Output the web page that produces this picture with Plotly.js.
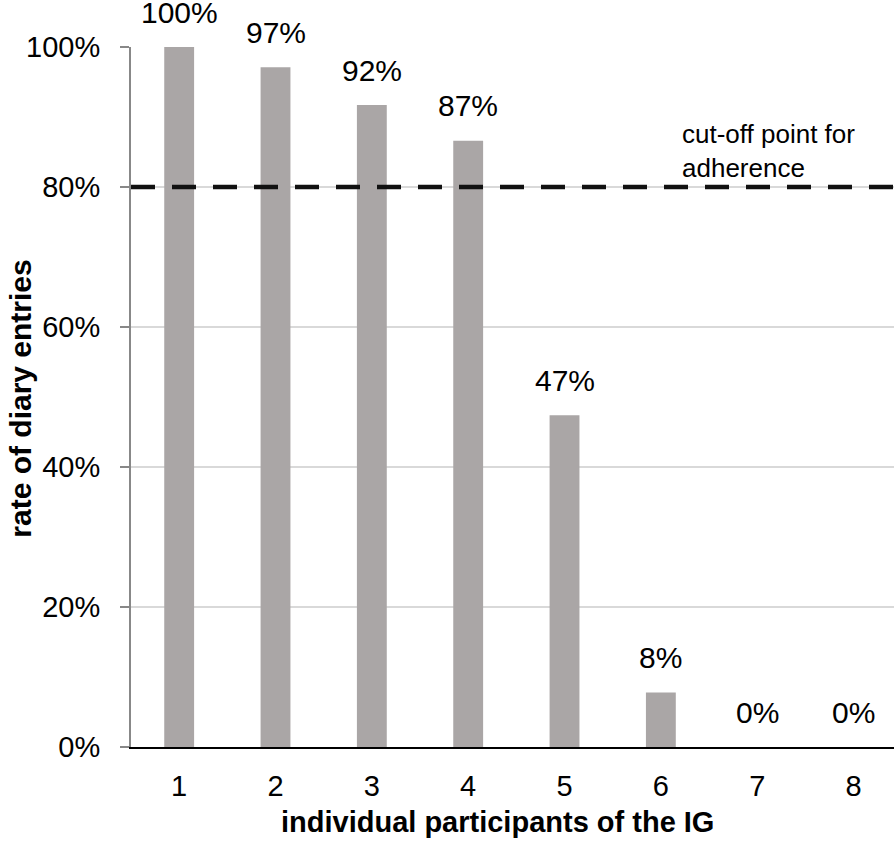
<!DOCTYPE html>
<html>
<head>
<meta charset="utf-8">
<script src="https://cdn.plot.ly/plotly-3.0.1.min.js"></script>
<style>html,body{margin:0;padding:0;background:#fff;}#chart{width:894px;height:844px;}</style>
</head>
<body>
<div id="chart"></div>
<script>
// Data
var participants = [1, 2, 3, 4, 5, 6, 7, 8];
var diaryRate = [1.0, 0.971, 0.917, 0.866, 0.474, 0.078, 0, 0];
var cutoff = 0.8;
var yTickVals = [0, 0.2, 0.4, 0.6, 0.8, 1.0];
var yTickText = ["0%", "20%", "40%", "60%", "80%", "100%"];
var xTitle = "individual participants of the IG";
var yTitle = "rate of diary entries";
var cutoffLabel = "cut-off point for<br>adherence";

var FONT = "'Liberation Sans', Arial, Helvetica, sans-serif";

var bars = {
  type: 'bar',
  x: participants,
  y: diaryRate,
  width: 0.31,
  marker: {color: '#aaa6a6'},
  hoverinfo: 'skip'
};

var cutLine = {
  type: 'scatter',
  mode: 'lines',
  x: [0.5, 8.42],
  y: [cutoff, cutoff],
  line: {color: '#111111', width: 4.5, dash: '24px,17px'},
  hoverinfo: 'skip'
};

var annotations = participants.map(function (p, i) {
  return {
    x: p, y: diaryRate[i], xref: 'x', yref: 'y',
    text: Math.round(diaryRate[i] * 100) + '%',
    showarrow: false, yanchor: 'middle', yshift: 35,
    font: {family: FONT, size: 30, color: '#000'}
  };
});
annotations.push({
  x: 0.48, y: -0.107, xref: 'paper', yref: 'paper',
  text: '<b>' + xTitle + '</b>', showarrow: false,
  xanchor: 'center', yanchor: 'middle',
  font: {family: FONT, size: 29, color: '#000'}
});
annotations.push({
  x: -0.146, y: 0.497, xref: 'paper', yref: 'paper',
  text: '<b>' + yTitle + '</b>', showarrow: false, textangle: -90,
  xanchor: 'center', yanchor: 'middle',
  font: {family: FONT, size: 30, color: '#000'}
});
annotations.push({
  x: 6.2, y: cutoff, xref: 'x', yref: 'y',
  text: cutoffLabel, showarrow: false, align: 'left',
  xanchor: 'left', yanchor: 'bottom', yshift: 2,
  font: {family: FONT, size: 26, color: '#000'}
});

var layout = {
  width: 894, height: 844,
  margin: {l: 131, r: 0, t: 47, b: 97, pad: 0},
  paper_bgcolor: '#fff', plot_bgcolor: '#fff',
  showlegend: false,
  font: {family: FONT, color: '#000'},
  xaxis: {
    range: [0.5, 8.42], tickvals: participants, ticktext: participants.map(String),
    showgrid: false, zeroline: false, showline: true, linecolor: '#000', linewidth: 2,
    ticks: '', ticklabelstandoff: 12,
    tickfont: {family: FONT, size: 29, color: '#000'}
  },
  yaxis: {
    range: [0, 1.0], tickvals: yTickVals, ticktext: yTickText,
    showgrid: true, gridcolor: '#d9d9d9', gridwidth: 2, zeroline: false,
    showline: true, linecolor: '#888', linewidth: 2,
    ticks: 'outside', ticklen: 9, tickcolor: '#888', tickwidth: 2,
    ticklabelstandoff: 14,
    tickfont: {family: FONT, size: 29, color: '#000'}
  },
  annotations: annotations
};

Plotly.newPlot('chart', [bars, cutLine], layout, {displayModeBar: false, staticPlot: true});
</script>
</body>
</html>
